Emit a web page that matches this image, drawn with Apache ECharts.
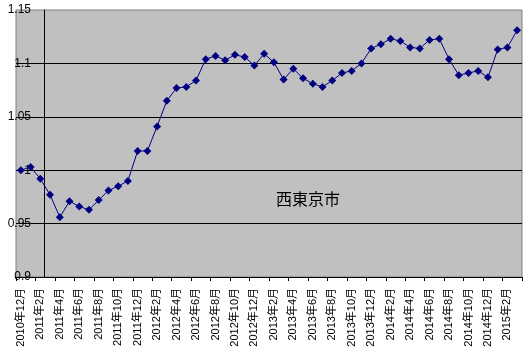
<!DOCTYPE html>
<html><head><meta charset="utf-8">
<script src="https://cdn.jsdelivr.net/npm/echarts@6/dist/echarts.min.js"></script>
<style>html,body{margin:0;padding:0;background:#fff}#c{width:528px;height:353px}</style>
</head><body><div id="c"></div>
<script>
var categories = [
'2010年12月','2011年1月','2011年2月','2011年3月','2011年4月','2011年5月','2011年6月','2011年7月','2011年8月','2011年9月','2011年10月','2011年11月','2011年12月',
'2012年1月','2012年2月','2012年3月','2012年4月','2012年5月','2012年6月','2012年7月','2012年8月','2012年9月','2012年10月','2012年11月','2012年12月',
'2013年1月','2013年2月','2013年3月','2013年4月','2013年5月','2013年6月','2013年7月','2013年8月','2013年9月','2013年10月','2013年11月','2013年12月',
'2014年1月','2014年2月','2014年3月','2014年4月','2014年5月','2014年6月','2014年7月','2014年8月','2014年9月','2014年10月','2014年11月','2014年12月',
'2015年1月','2015年2月','2015年3月'];
var values = [
1.000,1.003,0.992,0.977,0.956,0.971,0.966,0.963,0.972,0.981,0.985,0.990,1.018,
1.018,1.041,1.065,1.077,1.078,1.084,1.104,1.107,1.103,1.108,1.106,1.098,
1.109,1.101,1.085,1.095,1.086,1.081,1.078,1.084,1.091,1.093,1.100,1.114,
1.118,1.123,1.121,1.115,1.114,1.122,1.123,1.104,1.089,1.091,1.093,1.087,
1.113,1.115,1.131];
var yTicks = {min: 0.9, max: 1.15, interval: 0.05};
var titleText = '西東京市';

var chart = echarts.init(document.getElementById('c'), null, {renderer: 'canvas'});
var fontFam = '"Liberation Sans", Arial, "Noto Sans CJK JP", sans-serif';
chart.setOption({
  animation: false,
  backgroundColor: '#ffffff',
  grid: {left: 16, top: 10, right: 6, bottom: 76, show: true, backgroundColor: '#c0c0c0', borderColor: '#808080', borderWidth: 1, containLabel: false, outerBoundsMode: 'none'},
  xAxis: {
    type: 'category', data: categories, boundaryGap: true,
    axisLine: {show: true, lineStyle: {color: '#000', width: 1}},
    axisTick: {show: true, interval: 1, length: 4, lineStyle: {color: '#000'}},
    axisLabel: {interval: 1, rotate: 90, margin: 11, color: '#000', fontSize: 11, fontFamily: fontFam},
    splitLine: {show: false}
  },
  yAxis: {
    type: 'value', min: yTicks.min, max: yTicks.max, interval: yTicks.interval,
    offset: -28,
    axisLine: {show: true, lineStyle: {color: '#000', width: 1}},
    axisTick: {show: false},
    axisLabel: {margin: 13, color: '#000', fontSize: 12, fontFamily: fontFam, padding: [5, 0, 0, 0],
      formatter: function (v) { return String(+v.toFixed(2)); }},
    splitLine: {show: true, showMaxLine: false, showMinLine: false, lineStyle: {color: '#000', width: 1}}
  },
  series: [{
    type: 'line', data: values,
    symbol: 'diamond', symbolSize: 8, showAllSymbol: true,
    itemStyle: {color: '#000080'},
    lineStyle: {color: '#000080', width: 1}
  }],
  graphic: [{
    type: 'text', left: 276, top: 191,
    style: {text: titleText, fill: '#000', font: '16px "Noto Sans CJK JP", sans-serif'}
  }]
});
</script></body></html>
